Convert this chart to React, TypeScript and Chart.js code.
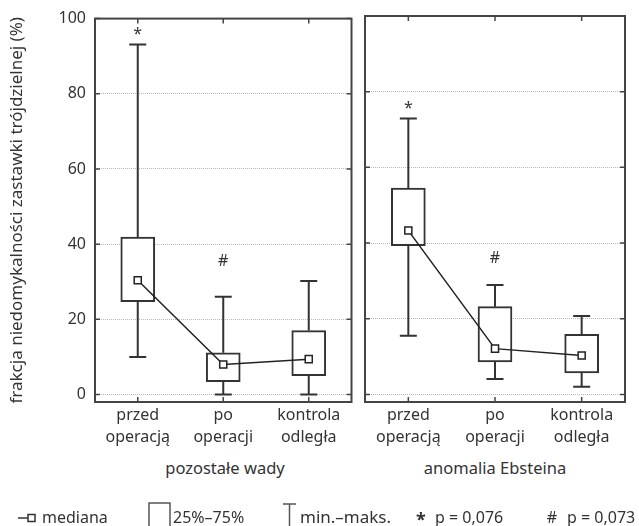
import React, { useEffect, useRef } from "react";
import { Chart, registerables } from "chart.js";

Chart.register(...registerables);

const FONT = '"Noto Sans", sans-serif';
const INK = "#333";

const categories = [
  ["przed", "operacją"],
  ["po", "operacji"],
  ["kontrola", "odległa"],
];
const groupLabels = ["pozostałe wady", "anomalia Ebsteina"];
const yTitle = "frakcja niedomykalności zastawki trójdzielnej (%)";

// pozostałe wady
const otherMin = [10.0, 0, 0];
const otherQ1 = [24.7, 3.4, 5.0];
const otherMedian = [30.4, 8.0, 9.4];
const otherQ3 = [41.9, 11.1, 17.0];
const otherMax = [93.1, 26.0, 30.2];
const otherMarks = ["*", "#", ""];
const otherMarkValues = [97.4, 35.7, 0];

// anomalia Ebsteina
const ebMin = [15.5, 4.1, 2.0];
const ebQ1 = [39.3, 8.6, 5.7];
const ebMedian = [43.3, 12.1, 10.3];
const ebQ3 = [54.5, 23.2, 15.9];
const ebMax = [72.9, 28.9, 20.7];
const ebMarks = ["*", "#", ""];
const ebMarkValues = [77.2, 36.2, 0];

const legendLabels = ["mediana", "25%–75%", "min.–maks.", "p = 0,076", "p = 0,073"];
const legendSymbols = ["*", "#"];

type Stats = {
  min: number[];
  q1: number[];
  median: number[];
  q3: number[];
  max: number[];
  marks: string[];
  markValues: number[];
};

function makePlugin(s: Stats) {
  return {
    id: "boxExtras",
    beforeDatasetsDraw(chart: any) {
      const ctx = chart.ctx;
      const xs = chart.scales.x;
      const ys = chart.scales.y;
      ctx.save();
      ctx.strokeStyle = INK;
      ctx.lineWidth = 2;
      for (let i = 0; i < s.min.length; i++) {
        const px = xs.getPixelForValue(i);
        const yMax = ys.getPixelForValue(s.max[i]);
        const yMin = ys.getPixelForValue(s.min[i]);
        const yQ1 = ys.getPixelForValue(s.q1[i]);
        const yQ3 = ys.getPixelForValue(s.q3[i]);
        ctx.beginPath();
        ctx.moveTo(px, yQ3);
        ctx.lineTo(px, yMax);
        ctx.moveTo(px - 8.5, yMax);
        ctx.lineTo(px + 8.5, yMax);
        ctx.moveTo(px, yQ1);
        ctx.lineTo(px, yMin);
        ctx.moveTo(px - 8.5, yMin);
        ctx.lineTo(px + 8.5, yMin);
        ctx.stroke();
      }
      ctx.restore();
    },
    afterDatasetsDraw(chart: any) {
      const ctx = chart.ctx;
      const xs = chart.scales.x;
      const ys = chart.scales.y;
      const a = chart.chartArea;
      ctx.save();
      // frame
      ctx.strokeStyle = "#444";
      ctx.lineWidth = 2;
      ctx.strokeRect(a.left, a.top, a.right - a.left, a.bottom - a.top);
      // inward ticks
      ctx.lineWidth = 1.5;
      ctx.beginPath();
      ys.ticks.forEach((t: any) => {
        const py = ys.getPixelForValue(t.value);
        ctx.moveTo(a.left, py);
        ctx.lineTo(a.left + 5, py);
        ctx.moveTo(a.right, py);
        ctx.lineTo(a.right - 5, py);
      });
      for (let i = 0; i < s.min.length; i++) {
        const px = xs.getPixelForValue(i);
        ctx.moveTo(px, a.top);
        ctx.lineTo(px, a.top + 5);
        ctx.moveTo(px, a.bottom);
        ctx.lineTo(px, a.bottom - 5);
      }
      ctx.stroke();
      // significance marks
      ctx.fillStyle = INK;
      ctx.textAlign = "center";
      ctx.textBaseline = "alphabetic";
      ctx.font = `16px ${FONT}`;
      for (let i = 0; i < s.marks.length; i++) {
        const m = s.marks[i];
        if (!m) continue;
        const px = xs.getPixelForValue(i);
        const py = ys.getPixelForValue(s.markValues[i]);
        const off = m === "*" ? 10.5 : 5.7;
        ctx.fillText(m, px, py + off);
      }
      ctx.restore();
    },
  };
}

function makeChart(canvas: HTMLCanvasElement, s: Stats, showY: boolean) {
  return new Chart(canvas, {
    type: "bar",
    data: {
      labels: categories as any,
      datasets: [
        {
          type: "line",
          data: s.median,
          borderColor: "#222",
          borderWidth: 1.5,
          pointStyle: "rect",
          pointRadius: 5,
          pointBackgroundColor: "#fff",
          pointBorderColor: "#222",
          pointBorderWidth: 1.5,
          tension: 0,
          order: 0,
        } as any,
        {
          type: "bar",
          data: s.q1.map((v, i) => [v, s.q3[i]]),
          backgroundColor: "#fff",
          borderColor: INK,
          borderWidth: 2,
          borderSkipped: false,
          barThickness: 34,
          order: 1,
        } as any,
      ],
    },
    options: {
      responsive: false,
      animation: false,
      events: [],
      layout: {
        padding: showY
          ? { left: 0, right: 5, top: 16, bottom: 0 }
          : { left: 0, right: 14, top: 16, bottom: 0 },
      },
      plugins: { legend: { display: false }, tooltip: { enabled: false } },
      scales: {
        x: {
          grid: { display: false, drawTicks: false },
          border: { display: false },
          ticks: {
            font: { family: FONT, size: 16, lineHeight: 1.375 },
            color: INK,
            padding: 2,
            maxRotation: 0,
            autoSkip: false,
          },
          afterFit: (sc: any) => {
            sc.height = 48;
          },
        },
        y: {
          min: -2,
          max: 100,
          grid: { color: "#b8b8b8", drawTicks: false, lineWidth: 1 },
          border: { display: false, dash: [1, 1] },
          ticks: {
            display: showY,
            stepSize: 20,
            includeBounds: false,
            font: { family: FONT, size: 16 },
            color: INK,
            padding: 9,
          },
          title: {
            display: showY,
            text: yTitle,
            font: { family: FONT, size: 17, lineHeight: 1.2 },
            color: INK,
            padding: { top: 7, bottom: 0 },
          },
          afterFit: (sc: any) => {
            sc.width = showY ? 95 : 7;
          },
        },
      },
    } as any,
    plugins: [makePlugin(s)],
  });
}

export default function App() {
  const leftRef = useRef<HTMLCanvasElement>(null);
  const rightRef = useRef<HTMLCanvasElement>(null);

  useEffect(() => {
    const c1 = makeChart(
      leftRef.current!,
      { min: otherMin, q1: otherQ1, median: otherMedian, q3: otherQ3, max: otherMax, marks: otherMarks, markValues: otherMarkValues },
      true
    );
    const c2 = makeChart(
      rightRef.current!,
      { min: ebMin, q1: ebQ1, median: ebMedian, q3: ebQ3, max: ebMax, marks: ebMarks, markValues: ebMarkValues },
      false
    );
    return () => {
      c1.destroy();
      c2.destroy();
    };
  }, []);

  const text: React.CSSProperties = {
    position: "absolute",
    fontFamily: FONT,
    fontSize: 16,
    lineHeight: "20px",
    color: INK,
    whiteSpace: "nowrap",
  };

  return (
    <div
      style={{
        position: "absolute",
        left: 0,
        top: 0,
        width: 639,
        height: 526,
        background: "#fff",
        overflow: "hidden",
      }}
    >
      <canvas ref={leftRef} width={358} height={450} style={{ position: "absolute", left: 0, top: 0 }} />
      <canvas ref={rightRef} width={281} height={450} style={{ position: "absolute", left: 358, top: 0 }} />

      <div style={{ ...text, left: 225, top: 458, fontSize: 16.5, transform: "translateX(-50%)" }}>{groupLabels[0]}</div>
      <div style={{ ...text, left: 495, top: 458, fontSize: 16.5, transform: "translateX(-50%)" }}>{groupLabels[1]}</div>

      <svg width={639} height={526} style={{ position: "absolute", left: 0, top: 0 }}>
        <line x1={18} y1={518} x2={28} y2={518} stroke={INK} strokeWidth={1.5} />
        <rect x={28} y={514.5} width={7} height={7} fill="#fff" stroke={INK} strokeWidth={1.5} />
        <rect x={149} y={503} width={21} height={26} fill="none" stroke="#555" strokeWidth={1.5} />
        <line x1={283} y1={504} x2={296} y2={504} stroke="#555" strokeWidth={1.5} />
        <line x1={289.5} y1={504} x2={289.5} y2={528} stroke="#555" strokeWidth={1.5} />
      </svg>
      <div style={{ ...text, left: 42, top: 507 }}>{legendLabels[0]}</div>
      <div style={{ ...text, left: 173, top: 507 }}>{legendLabels[1]}</div>
      <div style={{ ...text, left: 300, top: 507, fontSize: 17 }}>{legendLabels[2]}</div>
      <div style={{ ...text, left: 421, top: 509, fontSize: 18, fontWeight: 700, transform: "translateX(-50%)" }}>
        {legendSymbols[0]}
      </div>
      <div style={{ ...text, left: 435, top: 507 }}>{legendLabels[3]}</div>
      <div style={{ ...text, left: 552, top: 507, transform: "translateX(-50%)" }}>{legendSymbols[1]}</div>
      <div style={{ ...text, left: 567, top: 507 }}>{legendLabels[4]}</div>
    </div>
  );
}
